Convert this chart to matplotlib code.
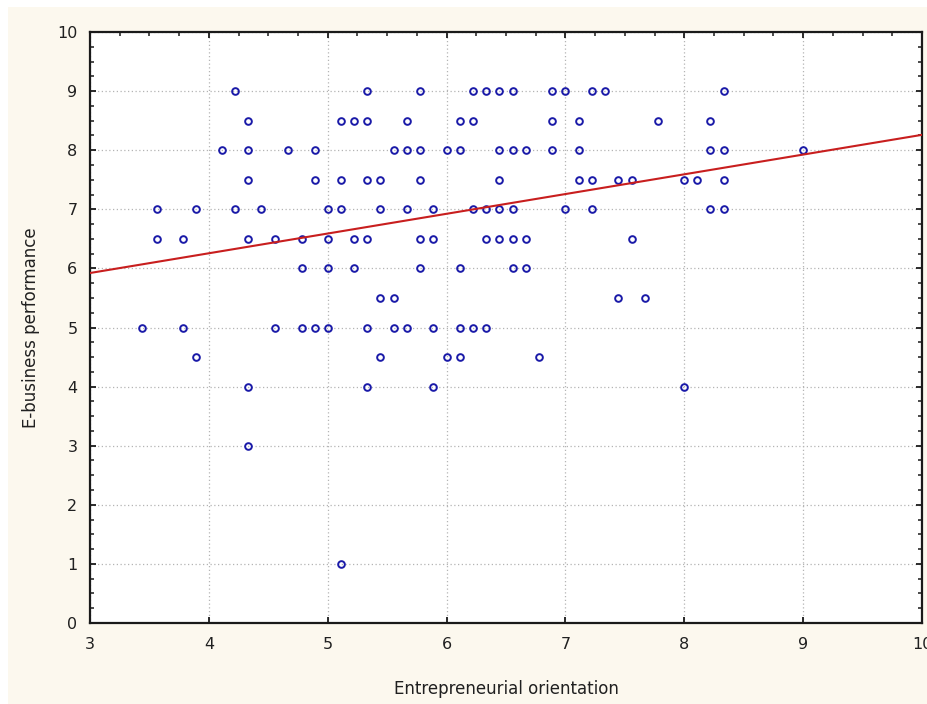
import numpy as np
import matplotlib
matplotlib.use("Agg")
import matplotlib.pyplot as plt
from matplotlib.patches import Rectangle
from matplotlib.ticker import MultipleLocator

# Data: for each performance level, the orientation scores
rows = {
    9.0: [4.22, 5.33, 5.78, 6.22, 6.33, 6.44, 6.56, 6.89, 7.0, 7.22, 7.33, 8.33],
    8.5: [4.33, 5.11, 5.22, 5.33, 5.67, 6.11, 6.22, 6.89, 7.11, 7.78, 8.22],
    8.0: [4.11, 4.33, 4.67, 4.89, 5.56, 5.67, 5.78, 6.0, 6.11, 6.44, 6.56, 6.67,
          6.89, 7.11, 8.22, 8.33, 9.0],
    7.5: [4.33, 4.89, 5.11, 5.33, 5.44, 5.78, 6.44, 7.11, 7.22, 7.44, 7.56, 8.0,
          8.11, 8.33],
    7.0: [3.56, 3.89, 4.22, 4.44, 5.0, 5.11, 5.44, 5.67, 5.89, 6.22, 6.33, 6.44,
          6.56, 7.0, 7.22, 8.22, 8.33],
    6.5: [3.56, 3.78, 4.33, 4.56, 4.78, 5.0, 5.22, 5.33, 5.78, 5.89, 6.33, 6.44,
          6.56, 6.67, 7.56],
    6.0: [4.78, 5.0, 5.22, 5.78, 6.11, 6.56, 6.67],
    5.5: [5.44, 5.56, 7.44, 7.67],
    5.0: [3.44, 3.78, 4.56, 4.78, 4.89, 5.0, 5.33, 5.56, 5.67, 5.89, 6.11, 6.22, 6.33],
    4.5: [3.89, 5.44, 6.0, 6.11, 6.78],
    4.0: [4.33, 5.33, 5.89, 8.0],
    3.0: [4.33],
    1.0: [5.11],
}
orientation = [x for y, xs in rows.items() for x in xs]
performance = [y for y, xs in rows.items() for x in xs]

# Regression line as drawn in the reference
line_x = [3, 10]
line_intercept = 4.92
line_slope = 0.334

x_ticks = [3, 4, 5, 6, 7, 8, 9, 10]
y_ticks = [0, 1, 2, 3, 4, 5, 6, 7, 8, 9, 10]

fig = plt.figure(figsize=(9.27, 7.04), dpi=100)
fig.patch.set_facecolor("white")
fig.patches.append(Rectangle((8 / 927, 0), 1, 1 - 7 / 704, transform=fig.transFigure,
                             facecolor="#fcf8ee", edgecolor="none", zorder=-10))

ax = fig.add_axes([90 / 927, 1 - 623 / 704, (922 - 90) / 927, (623 - 32) / 704])
ax.set_facecolor("white")

ax.plot(orientation, performance, linestyle="none", marker="o", markersize=4.8,
        markerfacecolor="none", markeredgecolor="#1a1aa8", markeredgewidth=1.4, zorder=3)

lx = np.array(line_x, dtype=float)
ax.plot(lx, line_intercept + line_slope * lx, color="#c81e1e", linewidth=1.5, zorder=4)

ax.set_xlim(3, 10)
ax.set_ylim(0, 10)
ax.set_xticks(x_ticks)
ax.set_yticks(y_ticks)
ax.yaxis.set_minor_locator(MultipleLocator(0.25))
ax.xaxis.set_minor_locator(MultipleLocator(0.25))

ax.grid(True, which="major", linestyle=(0, (1, 2)), color="#b4b4b4", linewidth=0.9)
ax.set_axisbelow(True)

for s in ax.spines.values():
    s.set_linewidth(1.6)
    s.set_color("#1a1a1a")

ax.tick_params(which="major", direction="in", length=4, width=1.3, colors="#1a1a1a",
               top=True, right=True, labelsize=11.5, labelcolor="#202020")
ax.tick_params(axis="x", which="major", pad=10)
ax.tick_params(axis="y", which="major", pad=9)
ax.tick_params(which="minor", direction="in", length=3, width=1.1, colors="#1a1a1a",
               left=True, right=True, top=True, bottom=False)

ax.set_xlabel("Entrepreneurial orientation", fontsize=12, labelpad=20, color="#202020")
ax.set_ylabel("E-business performance", fontsize=12, labelpad=12, color="#202020")

fig.savefig("out.png", dpi=100, facecolor=fig.get_facecolor())
